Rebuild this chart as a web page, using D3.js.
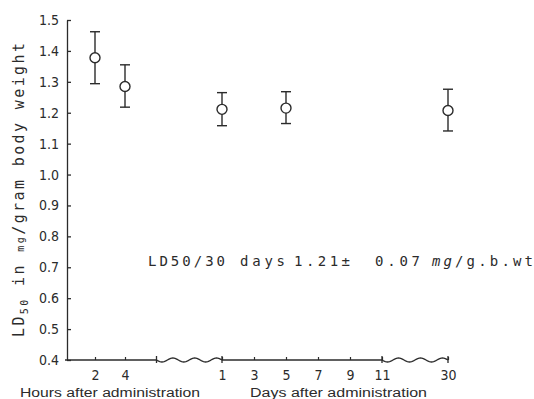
<!DOCTYPE html>
<html>
<head>
<meta charset="utf-8">
<script src="https://cdn.jsdelivr.net/npm/d3@7"></script>
<style>
  body { margin: 0; background: #fff; }
  svg { display: block; }
</style>
</head>
<body>
<div id="chart"></div>
<script>
// values
var yTicks = [0.4, 0.5, 0.6, 0.7, 0.8, 0.9, 1.0, 1.1, 1.2, 1.3, 1.4, 1.5];
var hourTicks = [2, 4];
var dayTicks = [1, 3, 5, 7, 9, 11, 30];
var dayMajor = [1, 11, 30];

var pointUnit = ["hour", "hour", "day", "day", "day"];
var pointTime = [2, 4, 1, 5, 30];
var meanLD = [1.378, 1.285, 1.211, 1.215, 1.207];
var upperLD = [1.462, 1.355, 1.265, 1.268, 1.276];
var lowerLD = [1.294, 1.218, 1.158, 1.165, 1.141];

var width = 534, height = 399;
var ink = "#2b2b2b";

var svg = d3.select("#chart")
  .append("svg")
    .attr("width", width)
    .attr("height", height);

// scales (x axis is broken into hours / days / 30 days)
var y = d3.scaleLinear().domain([0.4, 1.5]).range([360, 20]);
var xHour = d3.scaleLinear().domain([0, 4]).range([65, 125]);
var xDay = d3.scaleLinear().domain([1, 11, 30]).range([222, 382, 448]);
var hourBreak = 6.1;

function xPos(i) {
  return pointUnit[i] == "hour" ? xHour(pointTime[i]) : xDay(pointTime[i]);
}

var axisX = 67, axisY = y(0.4);
var tickFont = "'Liberation Sans Narrow', 'DejaVu Sans Condensed', sans-serif";

// Y axis
var yAxis = svg.append("g")
  .attr("transform", "translate(" + axisX + ",0)")
  .call(d3.axisLeft(y).tickValues(yTicks).tickSize(-4).tickSizeOuter(0).tickPadding(8)
    .tickFormat(d3.format(".1f")));
yAxis.selectAll("path, line").attr("stroke", ink).attr("stroke-width", 1.3);
yAxis.selectAll("text")
  .attr("fill", ink)
  .style("font-family", tickFont)
  .style("font-size", "14px");

// X axis: straight parts and wavy break parts
var wave = function(a, b) {
  return d3.range(0, 61).map(function(k) {
    var t = k / 60;
    return [a + (b - a) * t, axisY + 2 * Math.sin(t * Math.PI * 2 * 3)];
  });
};
var line = d3.line();
var xa = svg.append("g").attr("fill", "none").attr("stroke", ink).attr("stroke-width", 1.3);
xa.append("path").attr("d", line([[axisX - 2, axisY], [xHour(hourBreak), axisY]]));
xa.append("path").attr("d", line(wave(xHour(hourBreak), xDay(1))));
xa.append("path").attr("d", line([[xDay(1), axisY], [xDay(11), axisY]]));
xa.append("path").attr("d", line(wave(xDay(11), xDay(30))));

// major ticks crossing the axis
var majors = [xHour(hourBreak)].concat(dayMajor.map(xDay));
xa.selectAll(".major")
  .data(majors)
  .enter()
  .append("line")
    .attr("x1", d => d).attr("x2", d => d)
    .attr("y1", axisY - 4).attr("y2", axisY + 3);

function styleX(g) {
  g.select(".domain").remove();
  g.selectAll("line").attr("stroke", ink).attr("stroke-width", 1.2);
  g.selectAll("text")
    .attr("fill", ink)
    .style("font-family", tickFont)
    .style("font-size", "14px");
}
svg.append("g")
  .attr("transform", "translate(0," + axisY + ")")
  .call(d3.axisBottom(xHour).tickValues(hourTicks).tickSize(-3).tickPadding(10).tickFormat(d3.format("d")))
  .call(styleX);
svg.append("g")
  .attr("transform", "translate(0," + axisY + ")")
  .call(d3.axisBottom(xDay).tickValues(dayTicks).tickSize(-3).tickPadding(10).tickFormat(d3.format("d")))
  .call(styleX);

// axis titles
var titleFont = "'Liberation Sans', Arial, sans-serif";
svg.append("text")
  .attr("x", 20).attr("y", 397)
  .attr("textLength", 180).attr("lengthAdjust", "spacingAndGlyphs")
  .attr("fill", ink)
  .style("font-family", titleFont).style("font-size", "12.5px")
  .text("Hours after administration");
svg.append("text")
  .attr("x", 250).attr("y", 397)
  .attr("textLength", 177).attr("lengthAdjust", "spacingAndGlyphs")
  .attr("fill", ink)
  .style("font-family", titleFont).style("font-size", "12.5px")
  .text("Days after administration");

// y title, rotated
var mono = "'DejaVu Sans Mono', monospace";
var yt = svg.append("text")
  .attr("transform", "translate(24,337) rotate(-90)")
  .attr("textLength", 294).attr("lengthAdjust", "spacing")
  .attr("fill", ink)
  .style("font-family", mono)
  .style("font-size", "15px");
yt.append("tspan").text("LD");
yt.append("tspan").attr("dy", 4).style("font-size", "10px").text("50");
yt.append("tspan").attr("dy", -4).text(" in ");
yt.append("tspan").style("font-size", "10px").text("mg");
yt.append("tspan").text("/gram body weight");

// annotation, placed piece by piece like the typed original
var notePieces = ["LD50/30", "days", "1.21\u00b1", "0.07", "mg", "/g.b.wt"];
var noteX = [148, 240, 294, 375, 432, 455];
var noteLen = [77, 45, 56, 45, 20, 78];
var noteItalic = [false, false, false, false, true, false];
svg.selectAll(".note")
  .data(notePieces)
  .enter()
  .append("text")
    .attr("class", "note")
    .attr("x", (d, i) => noteX[i])
    .attr("y", 266)
    .attr("textLength", (d, i) => noteLen[i])
    .attr("lengthAdjust", "spacing")
    .attr("fill", ink)
    .style("font-family", mono)
    .style("font-size", "14px")
    .style("font-style", (d, i) => noteItalic[i] ? "italic" : "normal")
    .text(d => d);

// error bars with open circles
var idx = d3.range(meanLD.length);
var bars = svg.append("g").attr("stroke", ink).attr("stroke-width", 1.4);
bars.selectAll(".stem")
  .data(idx).enter()
  .append("line")
    .attr("x1", i => xPos(i)).attr("x2", i => xPos(i))
    .attr("y1", i => y(upperLD[i])).attr("y2", i => y(lowerLD[i]));
bars.selectAll(".capTop")
  .data(idx).enter()
  .append("line")
    .attr("x1", i => xPos(i) - 5).attr("x2", i => xPos(i) + 5)
    .attr("y1", i => y(upperLD[i])).attr("y2", i => y(upperLD[i]));
bars.selectAll(".capBot")
  .data(idx).enter()
  .append("line")
    .attr("x1", i => xPos(i) - 5).attr("x2", i => xPos(i) + 5)
    .attr("y1", i => y(lowerLD[i])).attr("y2", i => y(lowerLD[i]));
bars.selectAll("circle")
  .data(idx).enter()
  .append("circle")
    .attr("cx", i => xPos(i))
    .attr("cy", i => y(meanLD[i]))
    .attr("r", 5)
    .attr("fill", "#fff");
</script>
</body>
</html>
